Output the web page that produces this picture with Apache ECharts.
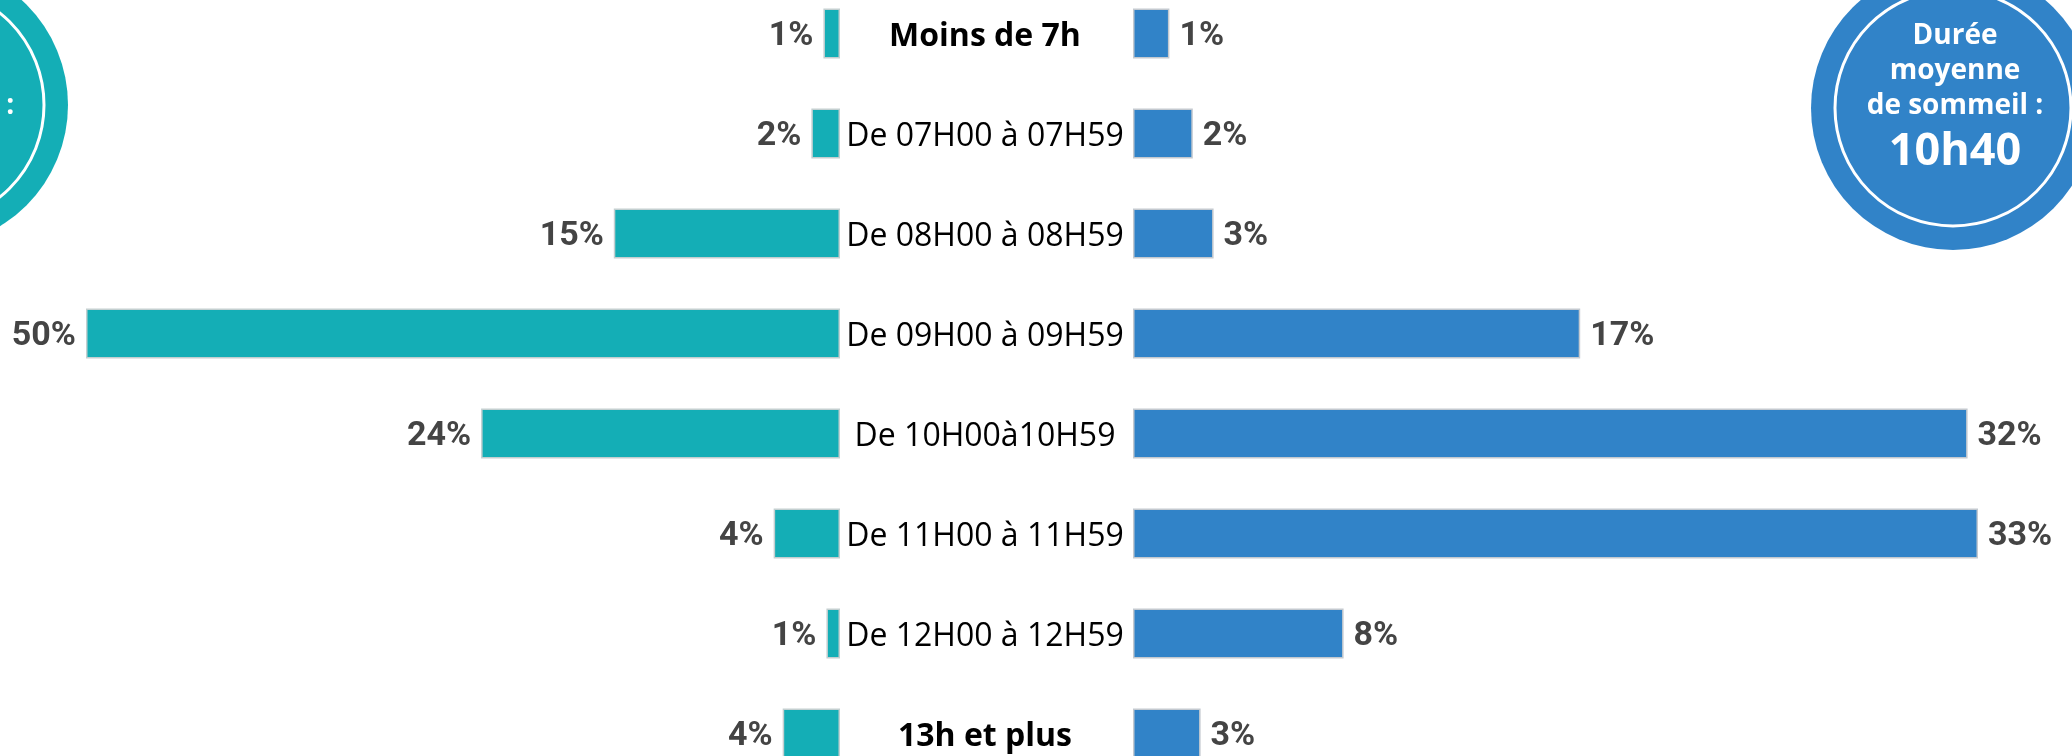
<!DOCTYPE html>
<html>
<head>
<meta charset="utf-8">
<script src="https://cdn.jsdelivr.net/npm/echarts@6/dist/echarts.min.js"></script>
<style>
  html, body { margin: 0; padding: 0; background: #fff; }
  #chart { width: 2072px; height: 756px; }
</style>
</head>
<body>
<div id="chart"></div>
<script>
// tranches de durée de sommeil
const categories = [
  'Moins de 7h',
  'De 07H00 à 07H59',
  'De 08H00 à 08H59',
  'De 09H00 à 09H59',
  'De 10H00à10H59',
  'De 11H00 à 11H59',
  'De 12H00 à 12H59',
  '13h et plus'
]
const leftValues = [1.1, 1.9, 15, 50, 23.8, 4.4, 0.9, 3.8]
const rightValues = [1.4, 2.3, 3.1, 17.2, 32.1, 32.5, 8.1, 2.6]
const boldCats = ['Moins de 7h', '13h et plus']

const circleTitle = ['Durée', 'moyenne', 'de sommeil :']
const rightAverage = '10h40'

const chart = echarts.init(document.getElementById('chart'))

const valueLabel = {
  show: true,
  fontFamily: 'Roboto',
  fontWeight: 'bold',
  fontSize: 34,
  color: '#444',
  distance: 10,
  offset: [0, 3],
  formatter: p => Math.round(p.value) + '%'
}

// textes des cercles
const circleTexts = (cx, avg) => {
  const items = []
  circleTitle.forEach((t, i) => {
    items.push({
      type: 'text',
      x: cx,
      y: 36 + i * 35,
      style: {
        text: t,
        fill: '#fff',
        font: 'bold 28px "Open Sans"',
        align: 'center',
        verticalAlign: 'middle'
      }
    })
  })
  if (avg) {
    items.push({
      type: 'text',
      x: cx,
      y: 152,
      style: {
        text: avg,
        fill: '#fff',
        font: 'bold 45px "Open Sans"',
        align: 'center',
        verticalAlign: 'middle'
      }
    })
  }
  return items
}

const option = {
  animation: false,
  backgroundColor: '#fff',
  graphic: [
    { type: 'circle', shape: { cx: -74, cy: 105, r: 142 }, style: { fill: '#14aeb6' } },
    { type: 'circle', shape: { cx: -74, cy: 105, r: 118 }, style: { fill: 'none', stroke: '#fff', lineWidth: 3 } },
    ...circleTexts(-74, null),
    { type: 'circle', shape: { cx: 1953, cy: 108, r: 142 }, style: { fill: '#3183c8' } },
    { type: 'circle', shape: { cx: 1953, cy: 108, r: 118 }, style: { fill: 'none', stroke: '#fff', lineWidth: 3 } },
    ...circleTexts(1955, rightAverage)
  ],
  grid: [
    { left: 86, width: 754, top: -16.5, height: 800, outerBoundsMode: 'none' },
    { left: 1133, width: 910, top: -16.5, height: 800, outerBoundsMode: 'none' }
  ],
  xAxis: [
    { gridIndex: 0, type: 'value', min: 0, max: 50, inverse: true, show: false },
    { gridIndex: 1, type: 'value', min: 0, max: 35, show: false }
  ],
  yAxis: [
    { gridIndex: 0, type: 'category', data: categories, inverse: true, show: false },
    {
      gridIndex: 1,
      type: 'category',
      data: categories,
      inverse: true,
      axisLine: { show: false },
      axisTick: { show: false },
      axisLabel: {
        margin: 148,
        align: 'center',
        formatter: v => boldCats.includes(v) ? '{b|' + v + '}' : '{n|' + v + '}',
        rich: {
          n: { fontFamily: 'Open Sans', fontSize: 32, color: '#000', padding: [6, 0, 0, 0] },
          b: { fontFamily: 'Open Sans', fontSize: 32, fontWeight: 'bold', color: '#000', padding: [6, 0, 0, 0] }
        }
      }
    }
  ],
  series: [
    {
      type: 'bar',
      xAxisIndex: 0,
      yAxisIndex: 0,
      data: leftValues,
      barWidth: 50,
      itemStyle: { color: '#14aeb6', borderColor: '#c4cfd0', borderWidth: 1.5 },
      label: { ...valueLabel, position: 'left' }
    },
    {
      type: 'bar',
      xAxisIndex: 1,
      yAxisIndex: 1,
      data: rightValues,
      barWidth: 50,
      itemStyle: { color: '#3183c8', borderColor: '#c4c9cf', borderWidth: 1.5 },
      label: { ...valueLabel, position: 'right' }
    }
  ]
}

chart.setOption(option)
</script>
</body>
</html>
